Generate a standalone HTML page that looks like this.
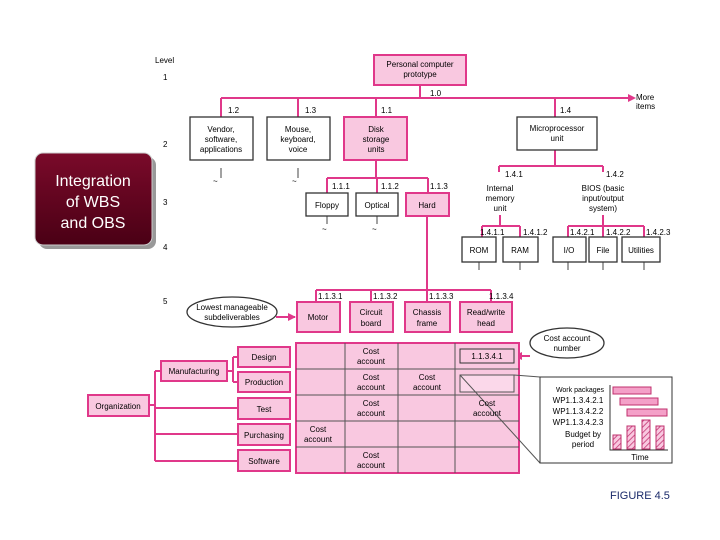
<!DOCTYPE html>
<html><head><style>body{margin:0;background:#fff}svg{display:block}</style></head><body>
<svg width="720" height="540" viewBox="0 0 720 540" font-family="Liberation Sans, sans-serif" font-size="8" fill="#000">
<defs>
<pattern id="h" width="4" height="4" patternUnits="userSpaceOnUse" patternTransform="rotate(45)"><rect width="4" height="4" fill="#f9c8e0"/><line x1="0" y1="0" x2="0" y2="4" stroke="#c0306e" stroke-width="1.5"/></pattern>
<linearGradient id="g" x1="0" y1="0" x2="0" y2="1"><stop offset="0" stop-color="#7a0a2a"/><stop offset="1" stop-color="#4a0015"/></linearGradient>
</defs>
<g stroke="#e0388a" stroke-width="2" fill="none">
<path d="M420 85V98M221 98H628M221 98V117M298 98V117M376 98V117M555 98V117"/>
<path d="M376 160V178M327 178H428M327 178V193M377 178V193M428 178V193M427 216V290M316 290H491M316 290V302M371 290V302M427 290V302M491 290V302"/>
<path d="M555 150V166M499 166H603M499 166V172M603 166V172M500 215V226M482 226H520M482 226V237M520 226V237M603 215V226M568 226H644M568 226V237M603 226V237M644 226V237"/>
<path d="M149 405H155M155 371V461M155 371H161M155 408H238M155 434H238M155 461H238M227 371H233M233 357V382M233 357H238M233 382H238"/>
<path d="M276 317H295M530 356H516"/>
</g>
<polygon points="628,94 636,98 628,102" fill="#e0388a"/>
<polygon points="296,317 288,313 288,321" fill="#e0388a"/>
<polygon points="514,356 522,352 522,360" fill="#e0388a"/>
<g stroke="#444" fill="none" stroke-width="1"><path d="M221 168V178M298 168V178M327 216V224M377 216V224M479 262V270M520 262V270M568 262V270M603 262V270M644 262V270"/></g>
<g font-size="8"><text x="213" y="184">~</text><text x="292" y="184">~</text><text x="322" y="232">~</text><text x="372" y="232">~</text></g>
<!-- level labels -->
<text x="155" y="63">Level</text><text x="163" y="80">1</text><text x="163" y="147">2</text><text x="163" y="205">3</text><text x="163" y="250">4</text><text x="163" y="304">5</text>
<!-- integration -->
<rect x="39" y="157" width="117" height="92" rx="8" fill="#999"/>
<rect x="35" y="153" width="117" height="92" rx="8" fill="url(#g)" stroke="#ccc"/>
<g fill="#fff" font-size="16" text-anchor="middle"><text x="93" y="186">Integration</text><text x="93" y="207">of WBS</text><text x="93" y="228">and OBS</text></g>
<!-- boxes -->
<g stroke="#333" stroke-width="1.3">
<rect x="374" y="55" width="92" height="30" fill="#f9c8e0" stroke="#e0388a" stroke-width="2"/>
<rect x="190" y="117" width="63" height="43" fill="#fff"/>
<rect x="267" y="117" width="63" height="43" fill="#fff"/>
<rect x="344" y="117" width="63" height="43" fill="#f9c8e0" stroke="#e0388a" stroke-width="2"/>
<rect x="517" y="117" width="80" height="33" fill="#fff"/>
<rect x="306" y="193" width="42" height="23" fill="#fff"/>
<rect x="356" y="193" width="42" height="23" fill="#fff"/>
<rect x="406" y="193" width="43" height="23" fill="#f9c8e0" stroke="#e0388a" stroke-width="2"/>
<rect x="462" y="237" width="34" height="25" fill="#fff"/>
<rect x="503" y="237" width="35" height="25" fill="#fff"/>
<rect x="553" y="237" width="33" height="25" fill="#fff"/>
<rect x="589" y="237" width="28" height="25" fill="#fff"/>
<rect x="622" y="237" width="38" height="25" fill="#fff"/>
</g>
<g fill="#f9c8e0" stroke="#e0388a" stroke-width="2">
<rect x="297" y="302" width="43" height="30"/><rect x="350" y="302" width="43" height="30"/><rect x="405" y="302" width="45" height="30"/><rect x="460" y="302" width="52" height="30"/>
<rect x="296" y="343" width="223" height="130"/>
<rect x="88" y="395" width="61" height="21"/><rect x="161" y="361" width="66" height="20"/>
<rect x="238" y="347" width="52" height="20"/><rect x="238" y="372" width="52" height="20"/><rect x="238" y="398" width="52" height="21"/><rect x="238" y="424" width="52" height="21"/><rect x="238" y="450" width="52" height="21"/>
</g>
<g stroke="#555" stroke-width="1" fill="none"><path d="M345 343V473M398 343V473M455 343V473M296 369H519M296 395H519M296 421H519M296 447H519"/>
<rect x="460" y="349" width="54" height="14" fill="#f9c8e0" stroke="#333"/><rect x="460" y="375" width="54" height="17" fill="#fbd8ea"/>
<path d="M460 375L540 463M514 375L540 377"/></g>
<ellipse cx="232" cy="312" rx="45" ry="15" fill="#fff" stroke="#333" stroke-width="1.3"/>
<ellipse cx="567" cy="343" rx="37" ry="15" fill="#fff" stroke="#333" stroke-width="1.3"/>
<rect x="540" y="377" width="132" height="86" fill="#fff" stroke="#333"/>
<g fill="#f4a0c8" stroke="#c0306e"><rect x="613" y="387" width="38" height="7"/><rect x="620" y="398" width="38" height="7"/><rect x="627" y="409" width="40" height="7"/></g>
<g fill="url(#h)" stroke="#c0306e"><rect x="613" y="435" width="8" height="14"/><rect x="627" y="426" width="8" height="23"/><rect x="642" y="420" width="8" height="29"/><rect x="656" y="426" width="8" height="23"/></g>
<path d="M610 385V450H668" stroke="#333" fill="none"/>
<!-- texts -->
<g text-anchor="middle">
<text x="420" y="67">Personal computer</text><text x="420" y="77">prototype</text>
<text x="221" y="132">Vendor,</text><text x="221" y="142">software,</text><text x="221" y="152">applications</text>
<text x="298" y="132">Mouse,</text><text x="298" y="142">keyboard,</text><text x="298" y="152">voice</text>
<text x="376" y="132">Disk</text><text x="376" y="142">storage</text><text x="376" y="152">units</text>
<text x="557" y="131">Microprocessor</text><text x="557" y="141">unit</text>
<text x="327" y="208">Floppy</text><text x="377" y="208">Optical</text><text x="427" y="208">Hard</text>
<text x="500" y="191">Internal</text><text x="500" y="201">memory</text><text x="500" y="211">unit</text>
<text x="603" y="191">BIOS (basic</text><text x="603" y="201">input/output</text><text x="603" y="211">system)</text>
<text x="479" y="253">ROM</text><text x="520" y="253">RAM</text><text x="569" y="253">I/O</text><text x="603" y="253">File</text><text x="641" y="253">Utilities</text>
<text x="318" y="320">Motor</text><text x="371" y="315">Circuit</text><text x="371" y="326">board</text><text x="427" y="315">Chassis</text><text x="427" y="326">frame</text><text x="486" y="315">Read/write</text><text x="486" y="326">head</text>
<text x="232" y="310">Lowest manageable</text><text x="232" y="320">subdeliverables</text>
<text x="567" y="341">Cost account</text><text x="567" y="351">number</text>
<text x="371" y="354">Cost</text><text x="371" y="364">account</text>
<text x="371" y="380">Cost</text><text x="371" y="390">account</text>
<text x="427" y="380">Cost</text><text x="427" y="390">account</text>
<text x="371" y="406">Cost</text><text x="371" y="416">account</text>
<text x="487" y="406">Cost</text><text x="487" y="416">account</text>
<text x="318" y="432">Cost</text><text x="318" y="442">account</text>
<text x="371" y="458">Cost</text><text x="371" y="468">account</text>
<text x="487" y="359">1.1.3.4.1</text>
<text x="118" y="409">Organization</text><text x="194" y="374">Manufacturing</text>
<text x="264" y="360">Design</text><text x="264" y="385">Production</text><text x="264" y="412">Test</text><text x="264" y="438">Purchasing</text><text x="264" y="464">Software</text>
<text x="580" y="392" font-size="7">Work packages</text><text x="578" y="403">WP1.1.3.4.2.1</text><text x="578" y="414">WP1.1.3.4.2.2</text><text x="578" y="425">WP1.1.3.4.2.3</text>
<text x="583" y="437">Budget by</text><text x="583" y="447">period</text><text x="640" y="460">Time</text>
</g>
<text x="430" y="96">1.0</text><text x="228" y="113">1.2</text><text x="305" y="113">1.3</text><text x="381" y="113">1.1</text><text x="560" y="113">1.4</text>
<text x="636" y="100">More</text><text x="636" y="109">items</text>
<text x="332" y="189">1.1.1</text><text x="381" y="189">1.1.2</text><text x="430" y="189">1.1.3</text>
<text x="505" y="177">1.4.1</text><text x="606" y="177">1.4.2</text>
<text x="480" y="235">1.4.1.1</text><text x="523" y="235">1.4.1.2</text><text x="570" y="235">1.4.2.1</text><text x="606" y="235">1.4.2.2</text><text x="646" y="235">1.4.2.3</text>
<text x="318" y="299">1.1.3.1</text><text x="373" y="299">1.1.3.2</text><text x="429" y="299">1.1.3.3</text><text x="489" y="299">1.1.3.4</text>
<text x="610" y="499" font-size="11" fill="#1a2a6a">FIGURE 4.5</text>
</svg>
</body></html>
